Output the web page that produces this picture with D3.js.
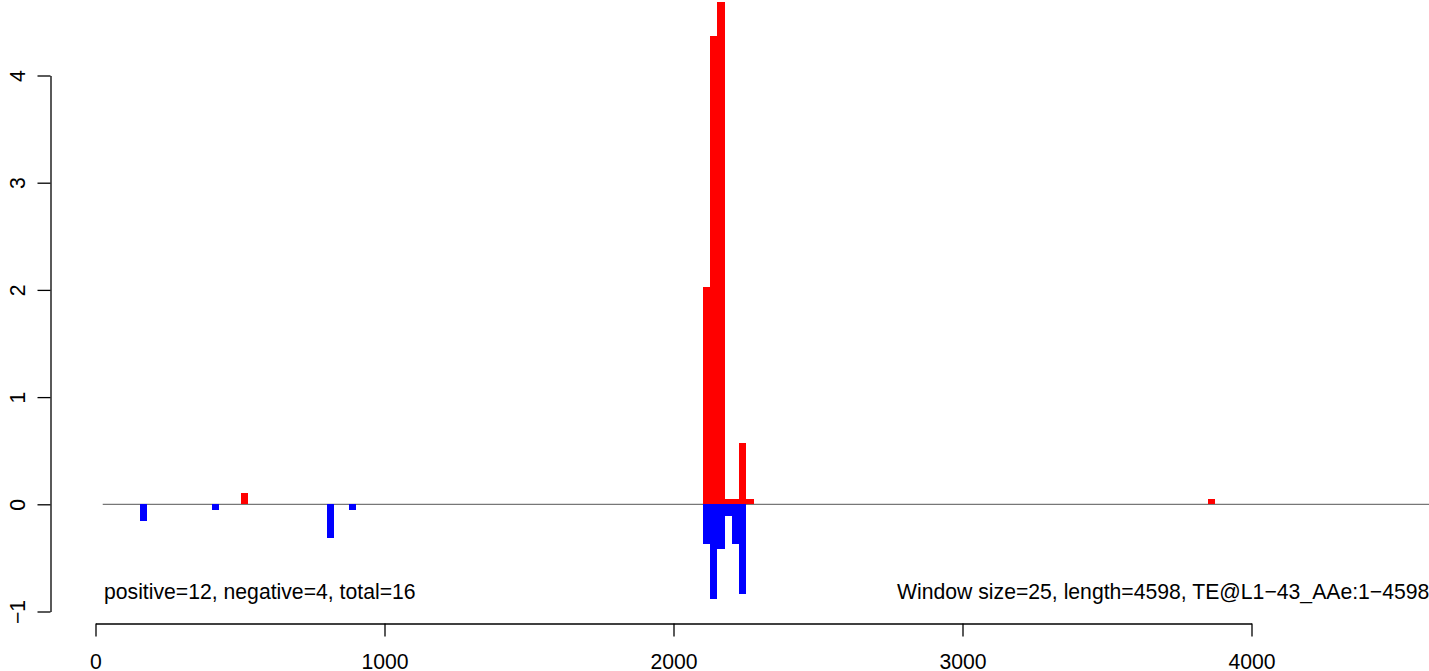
<!DOCTYPE html>
<html>
<head>
<meta charset="utf-8">
<script src="https://cdn.jsdelivr.net/npm/d3@7"></script>
<style>
  html, body { margin: 0; padding: 0; background: #fff; }
  svg { display: block; }
  text { font-family: "Liberation Sans", Arial, Helvetica, sans-serif; fill: #000; }
</style>
</head>
<body>
<svg id="chart" width="1429" height="671"></svg>
<script>
// ---- data (window start positions, values) ----
const windowSize = 25;
const seqLength = 4598;
const posStarts = [153, 503, 2102, 2127, 2152, 2177, 2202, 2227, 2252, 3850];
const posValues = [0, 0.105, 2.03, 4.37, 4.69, 0.05, 0.05, 0.57, 0.05, 0.05];
const negStarts = [153, 403, 801, 877, 2102, 2127, 2152, 2177, 2202, 2227];
const negValues = [-0.155, -0.05, -0.31, -0.05, -0.37, -0.88, -0.42, -0.11, -0.37, -0.84];
const xTicks = [0, 1000, 2000, 3000, 4000];
const yTicks = [-1, 0, 1, 2, 3, 4];
const leftLabel = "positive=12, negative=4, total=16";
const rightLabel = "Window size=25, length=4598, TE@L1\u221243_AAe:1\u22124598";

const FS = 21.2;
const svg = d3.select("#chart");
const x = d3.scaleLinear().domain([0, 4000]).range([95.5, 1251.5]);
const y = d3.scaleLinear().domain([-1, 4]).range([611.5, 75.5]);

// zero line
svg.append("line")
  .attr("x1", x(windowSize)).attr("x2", x(seqLength + windowSize))
  .attr("y1", y(0)).attr("y2", y(0))
  .attr("stroke", "#555").attr("stroke-width", 1);

function bars(starts, values, color) {
  svg.append("g").attr("shape-rendering", "crispEdges").selectAll("rect")
    .data(starts.map((s, i) => ({ s, v: values[i] })).filter(d => d.v !== 0))
    .join("rect")
    .attr("x", d => x(d.s))
    .attr("width", d => x(d.s + windowSize) - x(d.s))
    .attr("y", d => y(Math.max(0, d.v)))
    .attr("height", d => Math.abs(y(d.v) - y(0)))
    .attr("fill", color);
}
bars(posStarts, posValues, "#ff0000");
bars(negStarts, negValues, "#0000ff");

// x axis
const xAxis = svg.append("g")
  .attr("transform", "translate(0,623.5)")
  .call(d3.axisBottom(x).tickValues(xTicks).tickSizeInner(13).tickSizeOuter(0).tickFormat(d3.format("d")));
xAxis.selectAll("path, line").attr("stroke", "#000").attr("stroke-width", 1.3);
xAxis.selectAll("text").attr("font-size", FS).attr("y", 45).attr("dy", null).attr("fill", "#000");

// y axis
const yAxis = svg.append("g")
  .attr("transform", "translate(50.5,0)")
  .call(d3.axisLeft(y).tickValues(yTicks).tickSizeInner(13).tickSizeOuter(0)
    .tickFormat(d => d < 0 ? "\u2212" + Math.abs(d) : String(d)));
yAxis.selectAll("path, line").attr("stroke", "#000").attr("stroke-width", 1.3);
yAxis.selectAll("text")
  .attr("font-size", FS)
  .attr("x", null).attr("dy", null)
  .attr("text-anchor", "middle")
  .attr("transform", "translate(-26,0) rotate(-90)")
  .attr("fill", "#000");

// annotations
svg.append("text").attr("x", 104).attr("y", 599).attr("font-size", FS).text(leftLabel);
svg.append("text").attr("x", 897).attr("y", 599).attr("font-size", FS).text(rightLabel);
</script>
</body>
</html>
